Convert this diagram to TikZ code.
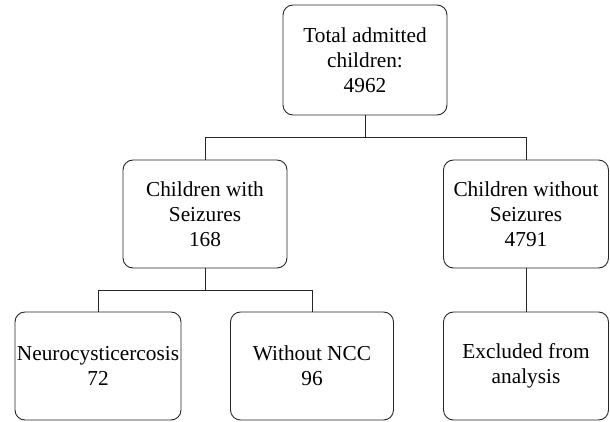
\documentclass[tikz,border=0pt]{standalone}
\usepackage{fontspec}
\setmainfont{Liberation Serif}
\begin{document}
\begin{tikzpicture}[x=1pt,y=1pt,line cap=round,
	box/.style={draw=black!85,line width=0.9pt,rounded corners=10pt,
		align=center,inner sep=0pt,minimum height=108pt,
		font=\fontsize{21.3}{25}\selectfont}]
	\useasboundingbox (0,0) rectangle (610,421);

	\node [box,minimum width=164pt,minimum height=110pt] (total) at (365,361)
		{Total admitted\\children:\\4962};

	\node [box,minimum width=164pt] (seiz) at (205,207)
		{Children with\\Seizures\\168};
	\node [box,minimum width=165pt] (noseiz) at (526,207)
		{Children without\\Seizures\\4791};

	\node [box,minimum width=166pt] (ncc) at (98,55)
		{Neurocysticercosis\\72};
	\node [box,minimum width=163pt] (noncc) at (312,55)
		{Without NCC\\96};
	\node [box,minimum width=165pt] (excl) at (526,55)
		{Excluded from\\analysis};

	\draw [black!85,line width=0.9pt] (total.south) -- ++(0,-22) coordinate (j1);
	\draw [black!85,line width=0.9pt] (seiz.north) |- (j1) -| (noseiz.north);

	\draw [black!85,line width=0.9pt] (seiz.south) -- ++(0,-22) coordinate (j2);
	\draw [black!85,line width=0.9pt] (ncc.north) |- (j2) -| (noncc.north);

	\draw [black!85,line width=0.9pt] (noseiz) -- (excl);
\end{tikzpicture}
\end{document}
